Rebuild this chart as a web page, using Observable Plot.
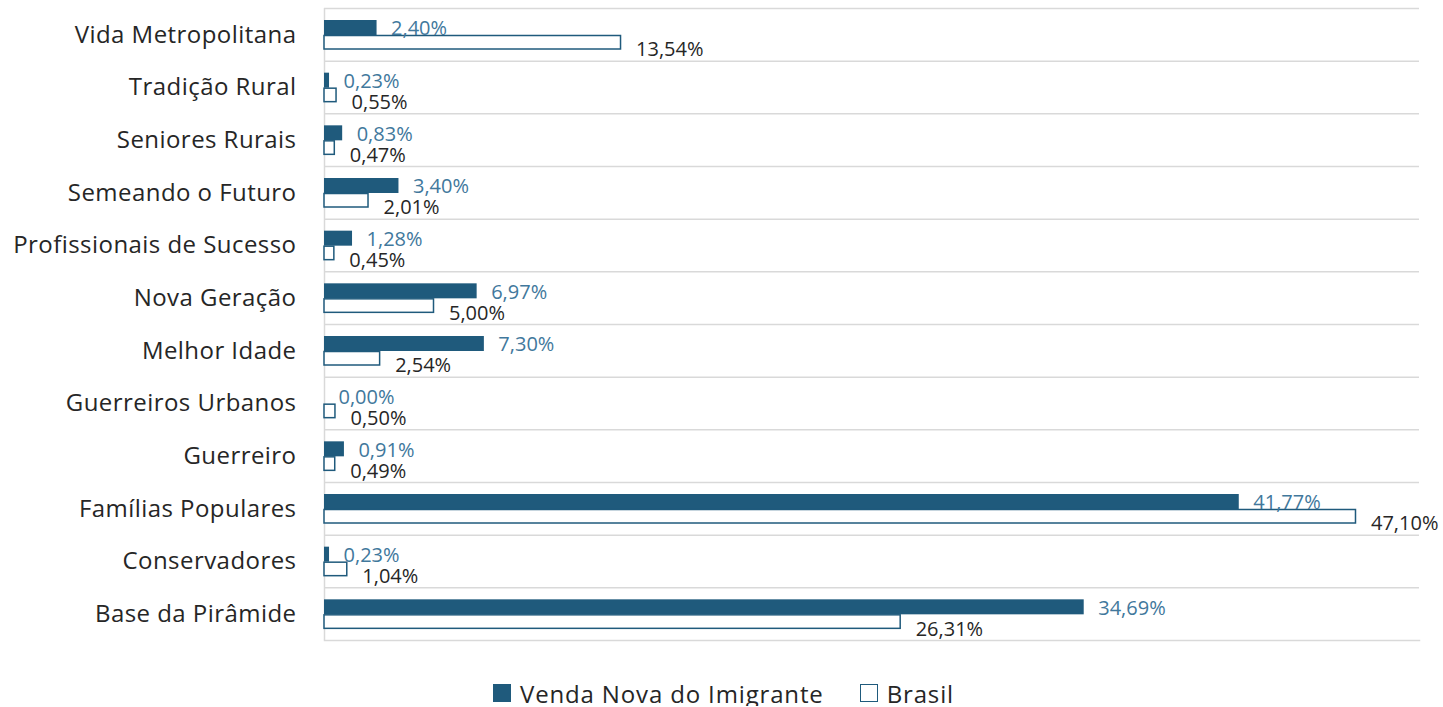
<!DOCTYPE html>
<html>
<head>
<meta charset="utf-8">
<script src="https://cdn.jsdelivr.net/npm/d3@7"></script>
<script src="https://cdn.jsdelivr.net/npm/@observablehq/plot@0.6"></script>
<style>
  body { margin: 0; background: #fff; font-family: "Open Sans", sans-serif; }
  #chart svg { display: block; }
  .legend { display: flex; justify-content: center; align-items: center; margin-top: 30px; height: 26px; font-size: 24px; letter-spacing: 0.85px; color: #262626; font-family: "Open Sans", sans-serif; padding-left: 4px; }
  .legend .sw { width: 18px; height: 18px; box-sizing: border-box; margin-right: 9px; }
  .legend .item { display: flex; align-items: center; }
</style>
</head>
<body>
<div id="chart"></div>
<script>
const categories = ["Vida Metropolitana", "Tradição Rural", "Seniores Rurais", "Semeando o Futuro", "Profissionais de Sucesso", "Nova Geração", "Melhor Idade", "Guerreiros Urbanos", "Guerreiro", "Famílias Populares", "Conservadores", "Base da Pirâmide"];
const venda = [2.40, 0.23, 0.83, 3.40, 1.28, 6.97, 7.30, 0.00, 0.91, 41.77, 0.23, 34.69];
const brasil = [13.54, 0.55, 0.47, 2.01, 0.45, 5.00, 2.54, 0.50, 0.49, 47.10, 1.04, 26.31];
const seriesNames = ["Venda Nova do Imigrante", "Brasil"];

const dark = "#1F5A7C";
const labelBlue = "#41789C";
const grid = "#d9d9d9";

const rows = categories.map((c, i) => ({cat: c, venda: venda[i], brasil: brasil[i]}));
const fmt = v => v.toFixed(2).replace(".", ",") + "%";

const width = 1443, height = 650, mt = 8, mb = 10;
const bw = (height - mt - mb) / categories.length;

const chart = Plot.plot({
  width, height,
  marginLeft: 324, marginRight: 24, marginTop: mt, marginBottom: mb,
  style: {fontFamily: "Open Sans, sans-serif", color: "#262626"},
  x: {domain: [0, 50], axis: null},
  y: {domain: categories, padding: 0, round: false, label: null},
  marks: [
    Plot.ruleY(categories, {y: d => d, dy: -bw / 2, stroke: grid, strokeWidth: 1.5}),
    Plot.frame({anchor: "bottom", stroke: grid, strokeWidth: 1.5}),
    Plot.ruleX([0], {stroke: grid, strokeWidth: 1.5}),
    Plot.barX(rows, {y: "cat", x: "venda", fill: dark, insetTop: 12, insetBottom: bw - 27}),
    Plot.barX(rows, {y: "cat", x: "brasil", fill: "white", stroke: dark, strokeWidth: 1.5, insetTop: 27.5, insetBottom: bw - 41}),
    Plot.text(rows, {y: "cat", x: "venda", text: d => fmt(d.venda), dx: 14, dy: -6, textAnchor: "start", fill: labelBlue, fontSize: 20, style: "letter-spacing:0.3px"}),
    Plot.text(rows, {y: "cat", x: "brasil", text: d => fmt(d.brasil), dx: 15, dy: 15, textAnchor: "start", fill: "#262626", fontSize: 20, style: "letter-spacing:0.3px"}),
    Plot.axisY({tickSize: 0, tickPadding: 28, fontSize: 24, label: null, fill: "#262626"})
  ]
});
chart.querySelectorAll("[aria-label='y-axis tick label'] text").forEach(t => t.style.letterSpacing = "0.45px");
document.getElementById("chart").appendChild(chart);

const legend = document.createElement("div");
legend.className = "legend";
legend.innerHTML = `
  <div class="item"><div class="sw" style="background:${dark}"></div><span>${seriesNames[0]}</span></div>
  <div class="item" style="margin-left:36px"><div class="sw" style="background:#fff;border:1.5px solid ${dark}"></div><span>${seriesNames[1]}</span></div>`;
document.body.appendChild(legend);
</script>
</body>
</html>
